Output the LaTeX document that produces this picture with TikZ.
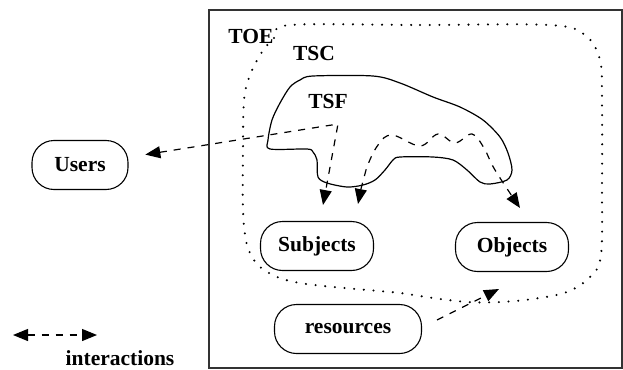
\documentclass[tikz,border=0pt]{standalone}
\usepackage{fontspec}
\setmainfont{Liberation Serif}
\usetikzlibrary{arrows.meta}

\begin{document}
\begin{tikzpicture}[x=1pt, y=-1pt,
	entity/.style={draw, line width=1.1pt, rounded corners=22pt, minimum height=49pt, inner sep=0pt, font=\fontsize{21.5}{24}\selectfont\bfseries},
	tag/.style={inner sep=0pt, font=\fontsize{21.5}{24}\selectfont\bfseries},
	interact/.style={line width=1.2pt, dash pattern=on 7pt off 7pt},
	>={Triangle[length=15pt, width=12pt]}]

	\useasboundingbox (0,0) rectangle (623,369);

	\draw[line width=1.3pt, black!80] (209,10) rectangle (622,368);

	% TSC
	\draw[line width=2.3pt, line cap=round, dash pattern=on 0pt off 9.7pt] plot[smooth cycle, tension=0.55] coordinates {
		(290,25) (420,25) (550,25) (585,35) (600,60) (602,100) (602,180) (601,255) (590,277) (567,292) (533,299) (500,302) (467,302) (433,298) (400,293) (367,290) (333,287) (300,283) (277,277) (258,265) (247,245) (243,210) (243,150) (244,100) (250,75) (262,52) (275,37)};

	% TSF
	\draw[line width=1.2pt] plot[smooth cycle, tension=0.5] coordinates {
		(313,76) (373,76) (400,83) (433,97) (460,107) (483,120) (500,137) (508,153) (512,170) (507,180) (490,184) (480,182) (467,170) (453,160) (433,157) (400,157) (393,160) (385,170) (375,180) (363,185) (347,187) (327,183) (318,177) (317,160) (313,152) (307,149) (270,149) (268,140) (272,120) (280,103) (290,87) (300,80)};

	\node[tag] (toe) at (251,36) {TOE};
	\node[tag] (tsc) at (314,53) {TSC};
	\node[tag] (tsf) at (328,101) {TSF};

	\node[entity, minimum width=96pt] (users) at (80,165) {Users};
	\node[entity, minimum width=113pt] (subjects) at (317,246) {Subjects};
	\node[entity, minimum width=113pt] (objects) at (512,247) {Objects};
	\node[entity, minimum width=147pt] (resources) at (348,329) {resources};

	\coordinate (hub) at (338,124);
	\coordinate (subjin) at (323,205);
	\coordinate (subjin2) at (358,204);
	\coordinate (objin) at (520,208);
	\coordinate (resout) at (437,320);
	\coordinate (objin2) at (499,289);

	\draw[interact, <->, shorten <=17pt] (users) -- (hub) -- (subjin);
	\draw[interact, <->] plot[smooth, tension=0.6] coordinates {
		(subjin2) (366,170) (378,145) (392,135) (420,146) (438,134) (455,143) (472,134) (484,148) (495,170) (objin)};
	\draw[interact, ->] (resout) -- (objin2);

	% legend
	\coordinate (legl) at (13,335);
	\coordinate (legr) at (97,335);
	\draw[interact, <->] (legl) -- (legr);
	\node[tag, anchor=base] (legtext) at (120,365) {interactions};

\end{tikzpicture}
\end{document}
